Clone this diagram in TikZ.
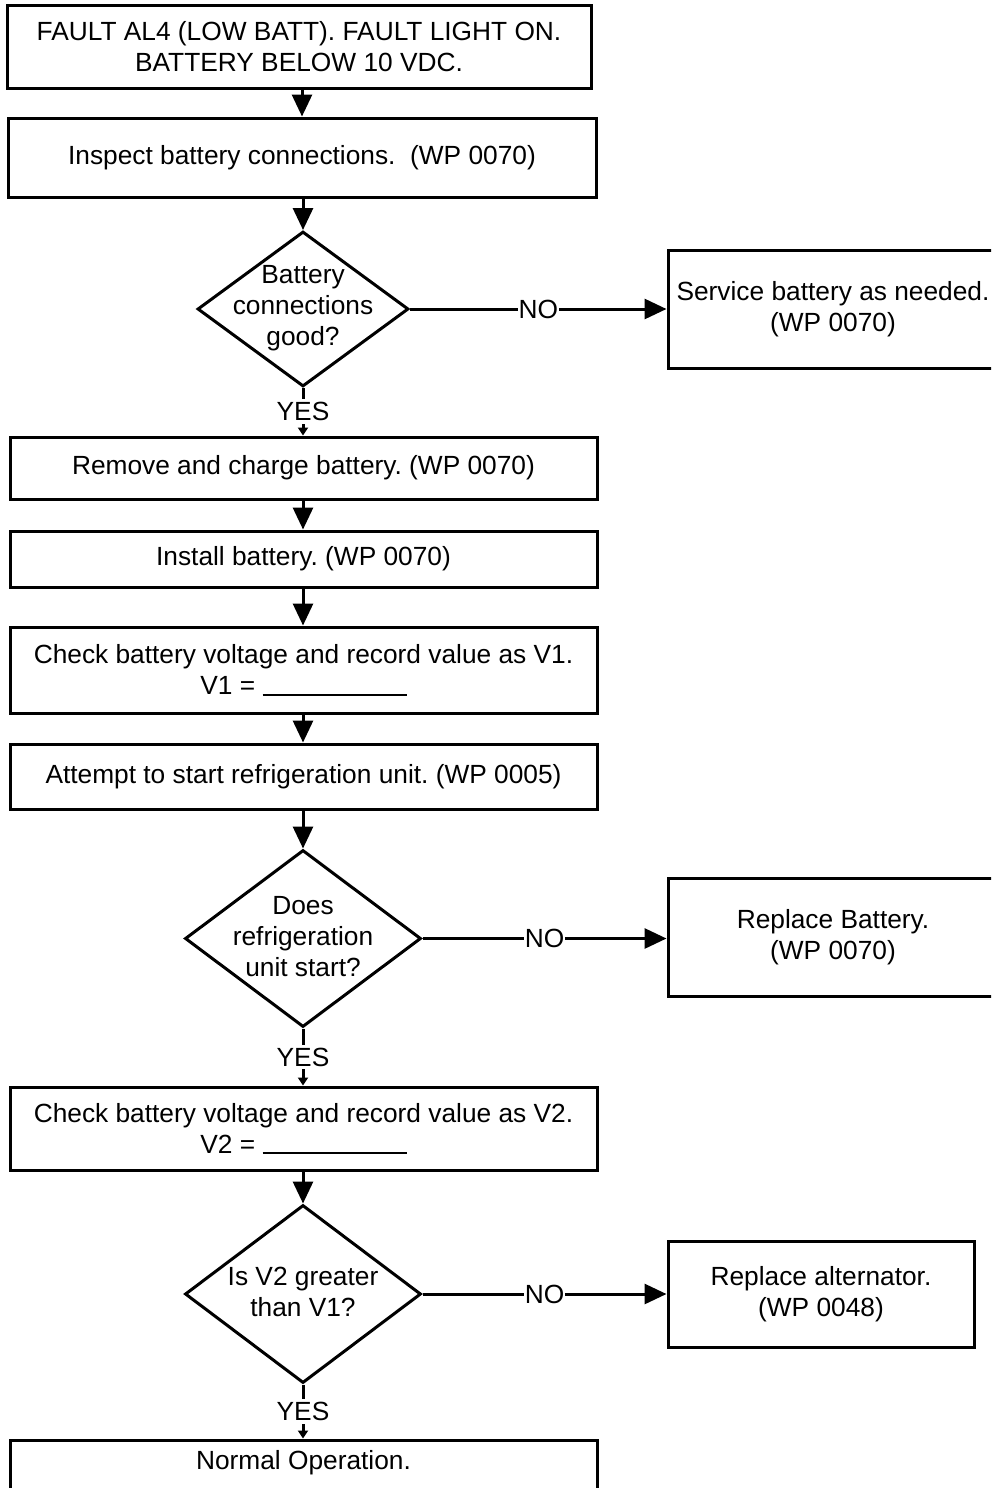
\documentclass[tikz,border=0pt]{standalone}
\usepackage{fontspec}
\setmainfont{Liberation Sans}
\usetikzlibrary{shapes.geometric,arrows.meta}
\begin{document}
\frenchspacing
\begin{tikzpicture}[x=1pt,y=-1pt,
  font=\fontsize{26.3}{31}\selectfont,
  box/.style={draw, line width=3pt, rectangle, inner sep=0pt, align=center},
  decision/.style={draw, line width=3pt, diamond, inner sep=0pt},
  dtext/.style={align=center, inner sep=0pt},
  flow/.style={line width=3pt, -{Triangle[length=22pt,width=20pt]}},
  yesflow/.style={line width=3pt, -{Triangle[length=8pt,width=10pt]}},
  lbl/.style={fill=white, inner xsep=1pt, inner ysep=3pt}]
\useasboundingbox (0,0) rectangle (991,1488);
\clip (0,0) rectangle (991,1488);

% main column
\node[box, minimum width=584, minimum height=82] (b1) at (299,47)
  {FAULT AL4 (LOW BATT). FAULT LIGHT ON.\\BATTERY BELOW 10 VDC.};
\node[box, minimum width=588, minimum height=79] (b2) at (302,157.5)
  {Inspect battery connections.\ \ (WP 0070)};
\node[decision, minimum width=211, minimum height=155] (d1) at (303,309) {};
\node[dtext] (d1t) at (303,308) {Battery\\connections\\good?};
\node[box, minimum width=587, minimum height=62] (b3) at (303.5,468)
  {Remove and charge battery. (WP 0070)};
\node[box, minimum width=587, minimum height=56] (b4) at (303.5,559)
  {Install battery. (WP 0070)};
\node[box, minimum width=587, minimum height=86] (b5) at (303.5,670)
  {Check battery voltage and record value as V1.\\V1 = \rule[-1pt]{144pt}{2pt}};
\node[box, minimum width=587, minimum height=65] (b6) at (303.5,776.5)
  {Attempt to start refrigeration unit. (WP 0005)};
\node[decision, minimum width=236, minimum height=177] (d2) at (303,938.5) {};
\node[dtext] (d2t) at (303,937) {Does\\refrigeration\\unit start?};
\node[box, minimum width=587, minimum height=83] (b7) at (303.5,1128.5)
  {Check battery voltage and record value as V2.\\V2 = \rule[-1pt]{144pt}{2pt}};
\node[decision, minimum width=236, minimum height=178] (d3) at (303,1294) {};
\node[dtext] (d3t) at (303,1292) {Is V2 greater\\than V1?};
\node[box, minimum width=587, minimum height=70] (b8) at (303.5,1475) {};
\node[dtext] (b8t) at (303.5,1463) {Normal Operation.};

% side column
\node[box, minimum width=330, minimum height=118] (s1) at (833,309)
  {Service battery as needed.\\(WP 0070)};
\node[box, minimum width=330, minimum height=118] (s2) at (833,937)
  {Replace Battery.\\(WP 0070)};
\node[box, minimum width=306, minimum height=106] (s3) at (821,1294)
  {Replace alternator.\\(WP 0048)};

% connectors
\draw[flow] (b2.north |- b1.south) -- (b2.north);
\draw[flow] (d1.north |- b2.south) -- (d1.north);
\draw[flow] (d1.east) -- node[lbl] (n1) {NO} (s1.west);
\draw[yesflow] (d1.south) -- node[lbl] (y1) {YES} (d1.south |- b3.north);
\draw[flow] (d1.south |- b3.south) -- (d1.south |- b4.north);
\draw[flow] (d1.south |- b4.south) -- (d1.south |- b5.north);
\draw[flow] (d1.south |- b5.south) -- (d1.south |- b6.north);
\draw[flow] (d2.north |- b6.south) -- (d2.north);
\draw[flow] (d2.east) -- node[lbl] (n2) {NO} (s2.west |- d2.east);
\draw[yesflow] (d2.south) -- node[lbl] (y2) {YES} (d2.south |- b7.north);
\draw[flow] (d3.north |- b7.south) -- (d3.north);
\draw[flow] (d3.east) -- node[lbl] (n3) {NO} (s3.west);
\draw[yesflow] (d3.south) -- node[lbl] (y3) {YES} (d3.south |- b8.north);
\end{tikzpicture}
\end{document}
